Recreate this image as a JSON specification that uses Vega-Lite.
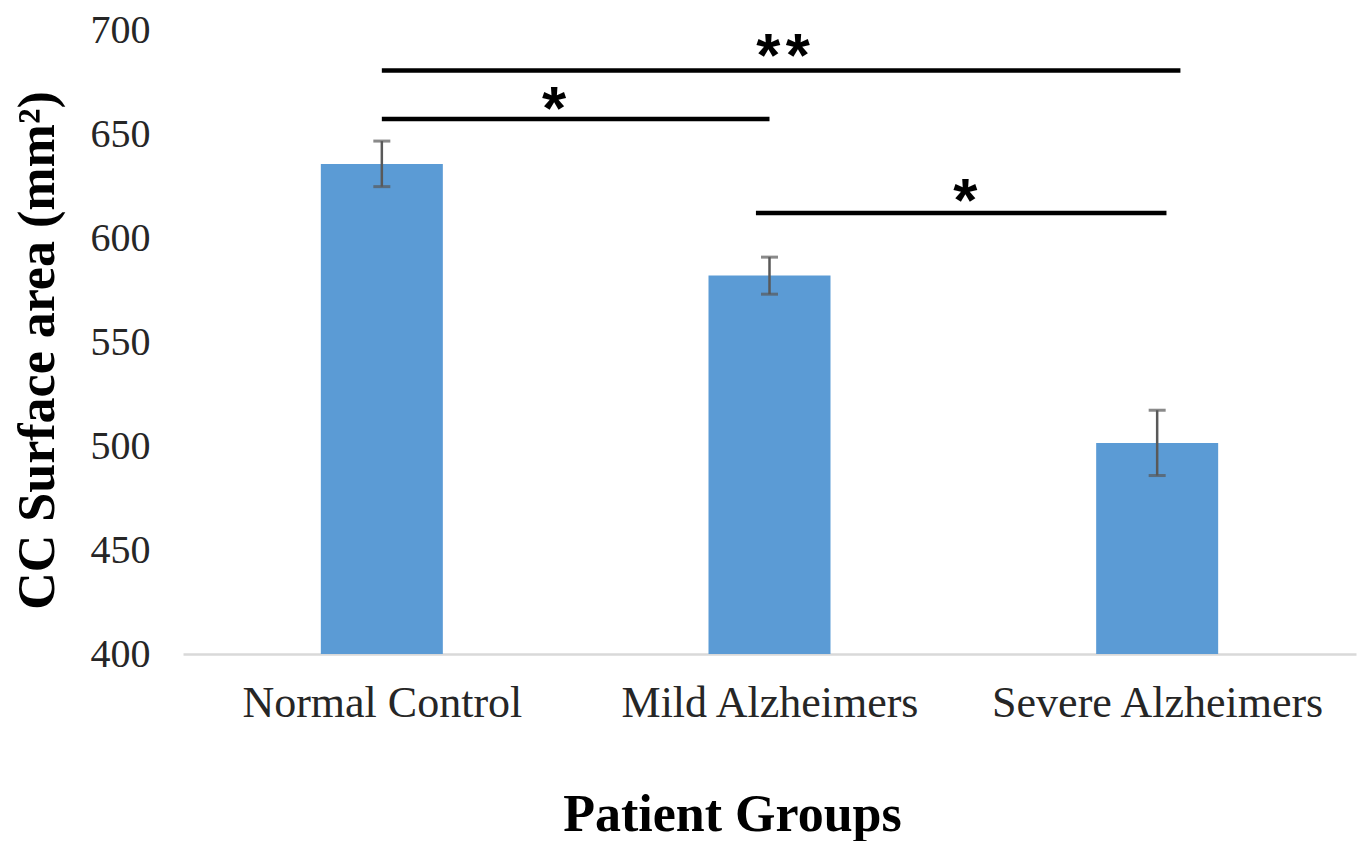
{
  "$schema": "https://vega.github.io/schema/vega-lite/v6.json",
  "width": 1173,
  "height": 624,
  "autosize": {"type": "none"},
  "padding": {"left": 183, "top": 30, "right": 3, "bottom": 187},
  "background": "white",
  "config": {"view": {"stroke": null}},
  "datasets": {
    "bars": [
      {"group": "Normal Control", "idx": 0, "mean": 635.6, "lo": 624.7, "hi": 646.6},
      {"group": "Mild Alzheimers", "idx": 1, "mean": 582.0, "lo": 573.0, "hi": 590.8},
      {"group": "Severe Alzheimers", "idx": 2, "mean": 501.4, "lo": 485.8, "hi": 517.2}
    ],
    "sig": [
      {"from": 0.0, "to": 2.06, "level": 680.5, "label": "*\u200a*", "lx": 1.035, "ly": 687.0},
      {"from": 0.0, "to": 1.0, "level": 657.2, "label": "*", "lx": 0.444, "ly": 661.5},
      {"from": 0.965, "to": 2.024, "level": 612.0, "label": "*", "lx": 1.505, "ly": 617.2}
    ]
  },
  "layer": [
    {
      "data": {"name": "bars"},
      "mark": {"type": "bar", "orient": "vertical", "width": 122, "color": "#5B9BD5"},
      "encoding": {
        "x": {
          "field": "idx", "type": "quantitative",
          "scale": {"domain": [-0.5, 2.5], "nice": false, "zero": false},
          "axis": {
            "title": "Patient Groups",
            "values": [0, 1, 2],
            "labelExpr": "datum.value == 0 ? 'Normal Control' : datum.value == 1 ? 'Mild Alzheimers' : 'Severe Alzheimers'",
            "grid": false, "ticks": false,
            "domainColor": "#d9d9d9", "domainWidth": 2.5,
            "labelFont": "Liberation Serif", "labelFontSize": 44, "labelColor": "#262626",
            "labelPadding": 27, "labelFlush": false, "labelOverlap": false, "labelLimit": 0,
            "titleFont": "Liberation Serif", "titleFontSize": 52, "titleFontWeight": "bold", "titleColor": "black",
            "titleX": 549, "titleY": 176, "titleBaseline": "alphabetic"
          }
        },
        "y": {
          "field": "mean", "type": "quantitative",
          "scale": {"domain": [400, 700], "nice": false, "zero": false},
          "axis": {
            "title": "CC Surface area (mm²)",
            "values": [400, 450, 500, 550, 600, 650, 700],
            "grid": false, "ticks": false, "domain": false,
            "labelFont": "Liberation Serif", "labelFontSize": 40, "labelColor": "#262626",
            "labelPadding": 33, "labelFlush": false, "labelOverlap": false, "labelLimit": 0,
            "titleFont": "Liberation Serif", "titleFontSize": 52, "titleFontWeight": "bold", "titleColor": "black",
            "titleX": -130, "titleY": 320, "titleBaseline": "alphabetic", "titleAngle": -90
          }
        },
        "y2": {"datum": 400}
      }
    },
    {
      "data": {"name": "bars"},
      "mark": {"type": "rule", "color": "#595959", "strokeWidth": 2.5},
      "encoding": {
        "x": {"field": "idx", "type": "quantitative"},
        "y": {"field": "lo", "type": "quantitative"},
        "y2": {"field": "hi"}
      }
    },
    {
      "data": {"name": "bars"},
      "mark": {"type": "tick", "orient": "horizontal", "color": "#595959", "size": 17, "thickness": 3},
      "encoding": {
        "x": {"field": "idx", "type": "quantitative"},
        "y": {"field": "lo", "type": "quantitative"}
      }
    },
    {
      "data": {"name": "bars"},
      "mark": {"type": "tick", "orient": "horizontal", "color": "#595959", "size": 17, "thickness": 3},
      "encoding": {
        "x": {"field": "idx", "type": "quantitative"},
        "y": {"field": "hi", "type": "quantitative"}
      }
    },
    {
      "data": {"name": "sig"},
      "mark": {"type": "rule", "color": "black", "strokeWidth": 4.5},
      "encoding": {
        "x": {"field": "from", "type": "quantitative"},
        "x2": {"field": "to"},
        "y": {"field": "level", "type": "quantitative"}
      }
    },
    {
      "data": {"name": "sig"},
      "mark": {"type": "text", "font": "Liberation Sans", "fontSize": 62, "fontWeight": "bold", "color": "black", "baseline": "middle", "align": "center"},
      "encoding": {
        "x": {"field": "lx", "type": "quantitative"},
        "y": {"field": "ly", "type": "quantitative"},
        "text": {"field": "label"}
      }
    }
  ]
}
